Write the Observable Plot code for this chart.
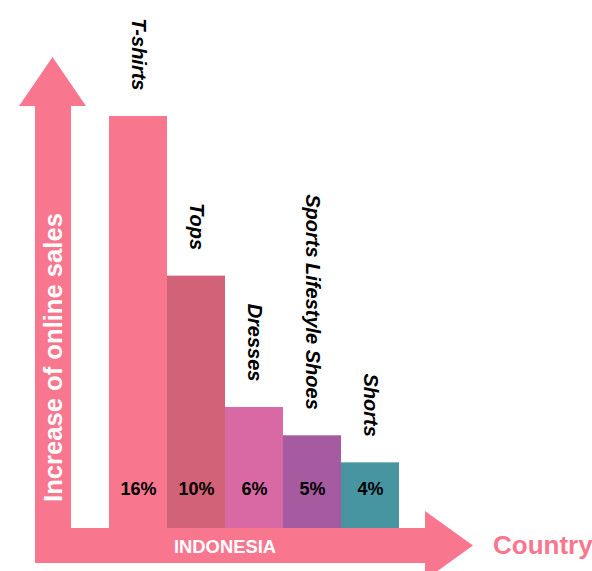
<!DOCTYPE html>
<html>
<head>
<meta charset="utf-8">
<script src="https://cdn.jsdelivr.net/npm/d3@7"></script>
<script src="https://cdn.jsdelivr.net/npm/@observablehq/plot@0.6"></script>
<style>
  html, body { margin: 0; padding: 0; background: #fff; }
  #chart svg { display: block; }
</style>
</head>
<body>
<div id="chart"></div>
<script>
// ---- Data ----
const categories = ["T-shirts", "Tops", "Dresses", "Sports Lifestyle Shoes", "Shorts"];
const shares = [16, 10, 6, 5, 4];                 // printed percentages
const barLengths = [16, 9.8, 4.7, 3.6, 2.55];     // drawn bar lengths (T-shirts = 16)
const barColors = ["#f8778f", "#d16277", "#d869a4", "#a65aa0", "#4795a0"];
const countryLabel = "INDONESIA";
const xTitle = "Country";
const yTitle = "Increase of online sales";

const data = categories.map((c, i) => ({category: c, share: shares[i], length: barLengths[i]}));

const arrowPink = "#f8778f";
const font = "'Liberation Sans', Arial, Helvetica, sans-serif";

// Decorative axis arrows (drawn relative to the frame)
function arrows(...args) {
  const g = d3.create("svg:g");
  g.append("path")
    .attr("fill", arrowPink)
    .attr("d", "M35,563 V106 H19 L52.5,57 L86,106 H71 V528 H425 V511 L473,545.5 L425,580 V563 Z");
  g.append("text")
    .attr("transform", "translate(53,357.5) rotate(-90)")
    .attr("text-anchor", "middle")
    .attr("dominant-baseline", "central")
    .attr("fill", "#fff")
    .attr("font-weight", "bold")
    .attr("font-size", 25.6)
    .attr("font-family", font)
    .text(yTitle);
  g.append("text")
    .attr("x", 225).attr("y", 546)
    .attr("text-anchor", "middle")
    .attr("dominant-baseline", "central")
    .attr("fill", "#fff")
    .attr("font-weight", "bold")
    .attr("font-size", 18.4)
    .attr("font-family", font)
    .text(countryLabel);
  g.append("text")
    .attr("x", 493).attr("y", 545)
    .attr("text-anchor", "start")
    .attr("dominant-baseline", "central")
    .attr("fill", arrowPink)
    .attr("font-weight", "bold")
    .attr("font-size", 26)
    .attr("font-family", font)
    .text(xTitle);
  return g.node();
}

const chart = Plot.plot({
  width: 592,
  height: 571,
  marginLeft: 107,
  marginRight: 191,
  marginTop: 116,
  marginBottom: 43,
  style: {fontFamily: font, background: "#fff", overflow: "visible"},
  x: {type: "band", domain: categories, padding: 0, axis: null},
  y: {domain: [0, 16], axis: null},
  color: {domain: categories, range: barColors},
  marks: [
    arrows,
    Plot.barY(data, {x: "category", y: "length", fill: "category", inset: 0}),
    Plot.text(data, {
      x: "category", y: "length", text: "category",
      rotate: 90, textAnchor: "end", lineAnchor: "middle", dy: -26,
      fontSize: 20, fontWeight: "bold", fontStyle: "italic", fill: "#000"
    }),
    Plot.text(data, {
      x: "category", frameAnchor: "bottom", dy: -34,
      text: d => d.share + "%", fontSize: 18, fontWeight: "bold", fill: "#000"
    })
  ]
});
document.getElementById("chart").append(chart);
</script>
</body>
</html>
